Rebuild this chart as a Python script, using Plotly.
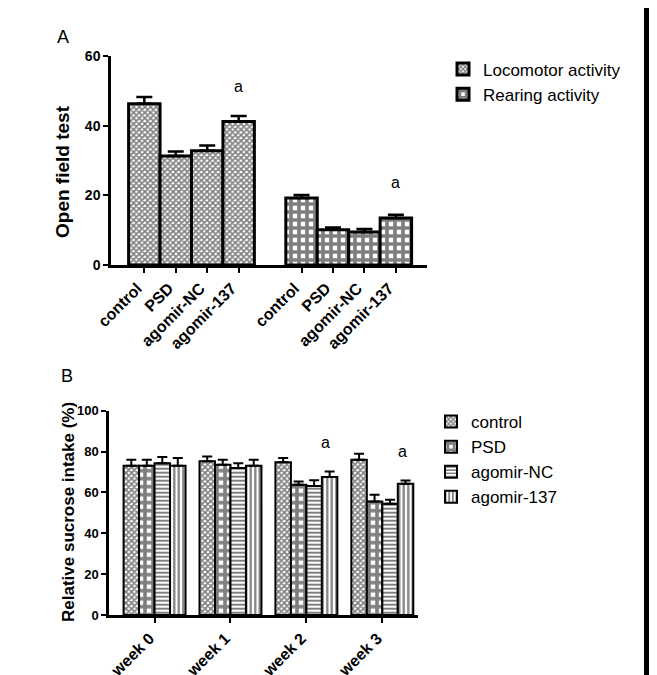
import plotly.graph_objects as go

# =========================================================
# DATA
# =========================================================
GROUPS = ["control", "PSD", "agomir-NC", "agomir-137"]

# panel A: open field test
LOCO = [46.3, 31.3, 32.8, 41.2]
LOCO_ERR = [1.9, 1.3, 1.5, 1.6]
REAR = [19.2, 10.1, 9.5, 13.5]
REAR_ERR = [0.9, 0.7, 0.8, 0.9]
SIG_A_X = [3, 8]
SIG_A_Y = [51.2, 23.6]

# panel B: relative sucrose intake
WEEKS = ["week 0", "week 1", "week 2", "week 3"]
SUC = {
    "control":    [73.0, 75.2, 74.8, 76.0],
    "PSD":        [73.0, 73.5, 63.7, 55.6],
    "agomir-NC":  [74.3, 71.9, 63.2, 54.4],
    "agomir-137": [73.0, 73.0, 67.5, 64.2],
}
SUC_ERR = {
    "control":    [3.0, 2.4, 2.0, 2.9],
    "PSD":        [3.0, 2.5, 1.7, 3.2],
    "agomir-NC":  [3.0, 2.4, 2.8, 2.0],
    "agomir-137": [3.8, 3.0, 2.8, 1.6],
}
SIG_B_X = [2.25, 3.27]
SIG_B_Y = [84.5, 80.0]

# =========================================================
# STYLE
# the page body keeps its 8px margin, so the figure is drawn 8px smaller
# and all page-pixel positions below are shifted by that offset
# =========================================================
PAGE_W, PAGE_H = 657, 675
OFF = 8
W, H = PAGE_W - OFF, PAGE_H - OFF
FONT = "Liberation Sans, Arial, sans-serif"

PATTERNS = {
    "fine":   dict(shape="x", size=4, solidity=0.65),
    "coarse": dict(shape="+", size=8, solidity=0.7),
    "hlines": dict(shape="-", size=4, solidity=0.5),
    "vlines": dict(shape="|", size=4.5, solidity=0.5),
}
B_PATTERN = {"control": "fine", "PSD": "coarse", "agomir-NC": "hlines", "agomir-137": "vlines"}


def px_x(x):
    return (x - OFF) / W


def px_y(y):
    return 1 - (y - OFF) / H


def pattern(key):
    p = PATTERNS[key]
    return dict(fgcolor="black", bgcolor="white", fillmode="overlay", **p)


fig = go.Figure()

# ---- panel A ----
pos_a = [[i for i in range(4)], [i + 5 for i in range(4)]]
for name, vals, errs, pat, xs in [
    ("Locomotor activity", LOCO, LOCO_ERR, "fine", pos_a[0]),
    ("Rearing activity", REAR, REAR_ERR, "coarse", pos_a[1]),
]:
    fig.add_trace(go.Bar(
        x=xs, y=vals, name=name, width=1, offset=-0.5,
        marker=dict(color="white", pattern=pattern(pat), line=dict(color="black", width=3)),
        error_y=dict(type="data", array=errs, arrayminus=[0] * len(errs), symmetric=False,
                     color="black", thickness=2.5, width=8),
        xaxis="x", yaxis="y", legend="legend",
    ))

# ---- panel B ----
for g in GROUPS:
    fig.add_trace(go.Bar(
        x=WEEKS, y=SUC[g], name=g,
        marker=dict(color="white", pattern=pattern(B_PATTERN[g]), line=dict(color="black", width=2)),
        error_y=dict(type="data", array=SUC_ERR[g], arrayminus=[0] * 4, symmetric=False,
                     color="black", thickness=2, width=5),
        xaxis="x2", yaxis="y2", legend="legend2",
    ))

tickfont_x = dict(family=FONT, size=16, color="black", weight="bold")
axis_common = dict(showline=True, linecolor="black", linewidth=2.5, ticks="outside",
                   ticklen=5, tickwidth=2, tickcolor="black", showgrid=False,
                   zeroline=False, automargin=False)


def note(text, x, y, size, bold=False, angle=0, xref="paper", yref="paper"):
    f = dict(family=FONT, size=size, color="black")
    if bold:
        f["weight"] = "bold"
    return dict(text=text, x=x, y=y, xref=xref, yref=yref, showarrow=False,
                textangle=angle, xanchor="center", yanchor="middle", font=f)


annotations = [
    note("A", px_x(63), px_y(37), 18),
    note("B", px_x(67), px_y(376), 18),
    note("Open field test", px_x(62), px_y(172), 19, bold=True, angle=-90),
    note("Relative sucrose intake (%)", px_x(68), px_y(512), 17, bold=True, angle=-90),
]
for x, y in zip(SIG_A_X, SIG_A_Y):
    annotations.append(note("a", x, y, 16, xref="x", yref="y"))
for x, y in zip(SIG_B_X, SIG_B_Y):
    annotations.append(note("a", x, y, 16, xref="x2", yref="y2"))

# dark strip along the right edge of the picture
frame = [
    dict(type="rect", xref="paper", yref="paper", x0=px_x(644), x1=1, y0=0, y1=1,
         fillcolor="black", line=dict(width=0), layer="above"),
]

fig.update_layout(
    width=W, height=H,
    margin=dict(l=0, r=0, t=0, b=0),
    paper_bgcolor="white", plot_bgcolor="white",
    font=dict(family=FONT, color="black"),
    barmode="group", bargap=0.184, bargroupgap=0,
    xaxis=dict(domain=[px_x(111), px_x(427)], range=[-1.06, 8.99],
               tickvals=pos_a[0] + pos_a[1], ticktext=GROUPS + GROUPS,
               tickangle=-45, tickfont=tickfont_x, ticklabelshift=-7,
               anchor="y", **axis_common),
    yaxis=dict(domain=[px_y(265), px_y(56)], range=[0, 60], tickvals=[0, 20, 40, 60],
               tickfont=dict(family=FONT, size=14, color="black", weight="bold"),
               anchor="x", **axis_common),
    xaxis2=dict(domain=[px_x(109), px_x(418)], range=[-0.6, 3.47],
                tickangle=-45, tickfont=tickfont_x, ticklabelshift=-5,
                anchor="y2", **axis_common),
    yaxis2=dict(domain=[px_y(615), px_y(410.7)], range=[0, 100], tickvals=[0, 20, 40, 60, 80, 100],
                tickfont=dict(family=FONT, size=13, color="black", weight="bold"),
                anchor="x2", **axis_common),
    legend=dict(x=px_x(443), y=px_y(51.5), xanchor="left", yanchor="top",
                font=dict(family=FONT, size=17, color="black"), bgcolor="rgba(0,0,0,0)"),
    legend2=dict(x=px_x(431), y=px_y(404), xanchor="left", yanchor="top",
                 font=dict(family=FONT, size=17, color="black"), bgcolor="rgba(0,0,0,0)"),
    annotations=annotations,
    shapes=frame,
)

fig.write_html("out.html")
